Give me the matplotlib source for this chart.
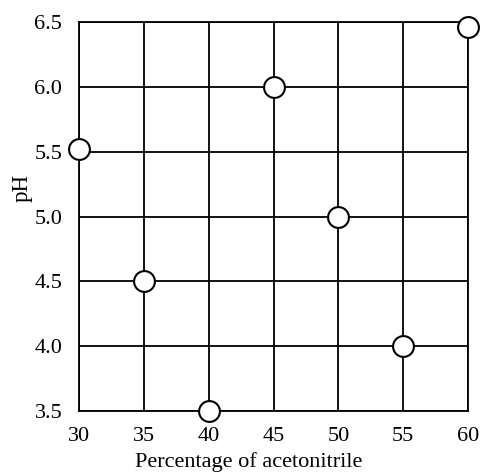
import matplotlib
matplotlib.use("Agg")
import matplotlib.pyplot as plt

acetonitrile = [30, 35, 40, 45, 50, 55, 60]
ph_values = [5.52, 4.5, 3.5, 6.0, 5.0, 4.0, 6.46]
x_ticks = [30, 35, 40, 45, 50, 55, 60]
y_ticks = [3.5, 4.0, 4.5, 5.0, 5.5, 6.0, 6.5]
y_tick_labels = ["3.5", "4.0", "4.5", "5.0", "5.5", "6.0", "6.5"]

plt.rcParams["font.family"] = ["Liberation Serif", "DejaVu Serif"]

fig = plt.figure(figsize=(4.8, 4.73), dpi=100)
ax = fig.add_axes([0.1646, 0.131, 0.8104, 0.8225])

ax.set_xlim(30, 60)
ax.set_ylim(3.5, 6.5)
ax.set_xticks(x_ticks)
ax.set_yticks(y_ticks)
ax.set_yticklabels(y_tick_labels)
ax.grid(True, color="black", linewidth=1.3)
ax.set_axisbelow(True)
for s in ax.spines.values():
    s.set_linewidth(1.3)
ax.tick_params(axis="x", length=0, labelsize=16, pad=11.5)
ax.tick_params(axis="y", length=0, labelsize=16, pad=12)

ax.plot(acetonitrile, ph_values, linestyle="none", marker="o", markersize=15,
        markerfacecolor="white", markeredgecolor="black", markeredgewidth=1.5,
        clip_on=False, zorder=5)

ax.set_xlabel("Percentage of acetonitrile", fontsize=16, labelpad=4)
ax.xaxis.set_label_coords(0.437, -0.105)
ax.set_ylabel("pH", fontsize=16.5)
ax.yaxis.set_label_coords(-0.12, 0.573)

fig.savefig("out.png", dpi=100)
